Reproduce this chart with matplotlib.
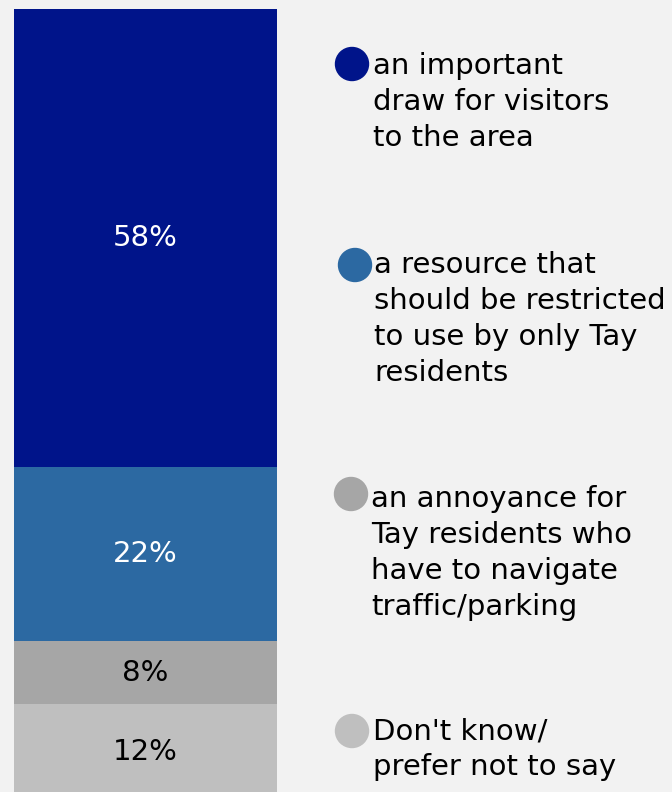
import matplotlib.pyplot as plt
from matplotlib.patches import Circle

# stacked shares, bottom to top
labels = [["Don't know/", "prefer not to say"],
          ["an annoyance for", "Tay residents who", "have to navigate", "traffic/parking"],
          ["a resource that", "should be restricted", "to use by only Tay", "residents"],
          ["an important", "draw for visitors", "to the area"]]
values = [12, 8, 22, 58]
colors = ['#bfbfbf', '#a6a6a6', '#2c69a2', '#00148a']
text_colors = ['black', 'black', 'white', 'white']

W, H = 672, 792
bg = '#f2f2f2'
fig = plt.figure(figsize=(W / 100, H / 100), dpi=100, facecolor=bg)

# bar runs a little past the bottom edge, as in the original
ax = fig.add_axes([14 / W, -7 / H, 263 / W, 790 / H])
ax.set_facecolor(bg)
bottom = 0
for v, c, tc in zip(values, colors, text_colors):
    ax.bar(0, v, bottom=bottom, width=1.0, color=c, edgecolor='none')
    ax.text(0, bottom + v / 2, f'{v}%', ha='center', va='center',
            color=tc, fontsize=21)
    bottom += v
ax.set_xlim(-0.5, 0.5)
ax.set_ylim(0, 100)
ax.axis('off')

# legend: circle marker + wrapped text, placed in pixel coords
circ_pos = [(352, 731), (351, 494), (355, 265), (352, 64)]
text_pos = [(373, 739), (371, 507), (374, 273), (373, 74)]   # first baseline
line_h = 36
lax = fig.add_axes([0, 0, 1, 1])
lax.set_xlim(0, W)
lax.set_ylim(H, 0)
lax.axis('off')
for (cx, cy), (tx, ty), lines, c in zip(circ_pos, text_pos, labels, colors):
    lax.add_patch(Circle((cx, cy), 16.5, color=c))
    for i, line in enumerate(lines):
        lax.text(tx, ty + i * line_h, line, ha='left', va='baseline',
                 fontsize=21, color='black')

plt.savefig('out.png', dpi=100, facecolor=bg)
